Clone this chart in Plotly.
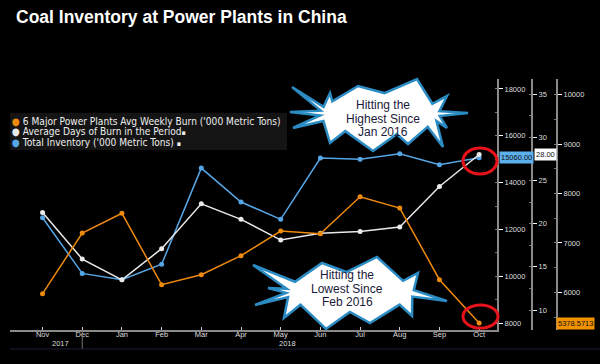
import math
import plotly.graph_objects as go

# ---------------- data ----------------
months = ["Nov", "Dec", "Jan", "Feb", "Mar", "Apr", "May", "Jun", "Jul", "Aug", "Sep", "Oct"]
weekly_burn = [5972, 7200, 7600, 6154, 6356, 6741, 7241, 7186, 7935, 7706, 6255, 5378.5713]
days_of_burn = [21.3, 15.9, 13.5, 17.1, 22.3, 20.5, 18.1, 18.9, 19.1, 19.6, 24.3, 28.00]
total_inventory = [12500, 10120, 9850, 10510, 14620, 13170, 12430, 15050, 15000, 15235, 14765, 15060]
year_labels = ["2017", "2018"]
inv_ticks = [8000, 10000, 12000, 14000, 16000, 18000]
days_ticks = [10, 15, 20, 25, 30, 35]
burn_ticks = [6000, 7000, 8000, 9000, 10000]

W, H = 600, 364
ORANGE = "#ee8a0e"
WHITE = "#e9e9e9"
BLUE = "#56a6e6"


def px(x):
    return x / W


def py(y):
    return 1 - y / H


xs = list(range(len(months)))

fig = go.Figure()
fig.add_trace(go.Scatter(x=xs, y=weekly_burn, yaxis="y3", mode="lines+markers",
                         line=dict(color=ORANGE, width=1.5), marker=dict(size=5, color=ORANGE),
                         name="6 Major Power Plants Avg Weekly Burn ('000 Metric Tons)"))
fig.add_trace(go.Scatter(x=xs, y=days_of_burn, yaxis="y2", mode="lines+markers",
                         line=dict(color=WHITE, width=1.5), marker=dict(size=5, color=WHITE),
                         name="Average Days of Burn in the Period"))
fig.add_trace(go.Scatter(x=xs, y=total_inventory, yaxis="y", mode="lines+markers",
                         line=dict(color=BLUE, width=1.5), marker=dict(size=5, color=BLUE),
                         name="Total Inventory ('000 Metric Tons)"))

AX = "#8a8a8a"
TICKFONT = dict(family="Liberation Sans, Arial, sans-serif", size=7.5, color="#dddddd")
ydom = [py(330), py(79)]

fig.update_layout(
    width=W, height=H,
    paper_bgcolor="black", plot_bgcolor="black",
    margin=dict(l=0, r=0, t=0, b=0),
    showlegend=False,
    xaxis=dict(domain=[px(10), px(497)], range=[-0.82, 11.45],
               tickvals=xs, ticktext=months, showgrid=False, zeroline=False,
               showline=True, linecolor=AX, linewidth=2,
               ticks="inside", ticklen=3, tickcolor="#cccccc", ticklabelstandoff=-4,
               tickfont=TICKFONT),
    yaxis=dict(domain=ydom, side="right", anchor="x", range=[7701, 18427],
               tickvals=inv_ticks, ticktext=[str(v) for v in inv_ticks],
               showgrid=False, zeroline=False, showline=True, linecolor=AX, linewidth=2,
               ticks="outside", ticklen=4, tickcolor="white", tickfont=TICKFONT,
               minor=dict(dtick=1000, tick0=0, ticks="inside", ticklen=2, tickcolor="#777")),
    yaxis2=dict(overlaying="y", side="right", anchor="free", position=px(532),
                range=[7.69, 36.74], tickvals=days_ticks, ticktext=[str(v) for v in days_ticks],
                showgrid=False, zeroline=False, showline=True, linecolor=AX, linewidth=2,
                ticks="outside", ticklen=4, tickcolor="white", tickfont=TICKFONT,
                minor=dict(dtick=2.5, tick0=0, ticks="inside", ticklen=2, tickcolor="#777")),
    yaxis3=dict(overlaying="y", side="right", anchor="free", position=px(557),
                range=[5237, 10318], tickvals=burn_ticks, ticktext=[str(v) for v in burn_ticks],
                showgrid=False, zeroline=False, showline=True, linecolor=AX, linewidth=2,
                ticks="outside", ticklen=4, tickcolor="white", tickfont=TICKFONT,
                minor=dict(dtick=500, tick0=0, ticks="inside", ticklen=2, tickcolor="#777")),
)

shapes = []
annotations = []

# title
annotations.append(dict(x=px(14), y=py(17), xref="paper", yref="paper", xanchor="left", yanchor="middle",
                        text="<b>Coal Inventory at Power Plants in China</b>", showarrow=False,
                        font=dict(family="Liberation Sans, Arial, sans-serif", size=17.5, color="white")))

# legend box
shapes.append(dict(type="rect", xref="paper", yref="paper", x0=px(10), x1=px(287), y0=py(150), y1=py(113),
                   fillcolor="#141414", line=dict(width=0), layer="below"))
leg_items = [
    (ORANGE, "6 Major Power Plants Avg Weekly Burn ('000 Metric Tons)", ""),
    (WHITE, "Average Days of Burn in the Period", "▪"),
    (BLUE, "Total Inventory ('000 Metric Tons) ", "▪"),
]
for i, (c, t, suf) in enumerate(leg_items):
    annotations.append(dict(x=px(10), y=py(121.5 + 10.3 * i), xref="paper", yref="paper",
                            xanchor="left", yanchor="middle", showarrow=False,
                            text=f"<span style='color:{c}'>●</span> {t}<span style='font-size:7px'>{suf}</span>",
                            font=dict(family="DejaVu Sans Condensed, sans-serif", size=10.1, color="#eeeeee")))

# x-axis extras: year labels, separator, bottom line
annotations.append(dict(x=1, y=py(343), xref="x", yref="paper", xanchor="right", yanchor="middle",
                        text=year_labels[0], showarrow=False, xshift=-11, font=TICKFONT))
annotations.append(dict(x=6, y=py(343), xref="x", yref="paper", xanchor="right", yanchor="middle",
                        text=year_labels[1], showarrow=False, xshift=17, font=TICKFONT))
shapes.append(dict(type="line", xref="x", yref="paper", x0=1, x1=1, y0=py(330), y1=py(349),
                   line=dict(color="#777", width=1)))
shapes.append(dict(type="line", xref="paper", yref="paper", x0=px(10), x1=1, y0=py(349), y1=py(349),
                   line=dict(color="#1c1c3a", width=1)))


# starbursts
def star_path(cx, cy, tips, irx, iry):
    pts = []
    n = len(tips)
    angs = [math.atan2(ty - cy, tx - cx) for tx, ty in tips]
    for i in range(n):
        pts.append(tips[i])
        a0, a1 = angs[i], angs[(i + 1) % n]
        d = (a1 - a0) % (2 * math.pi)
        am = a0 + d / 2
        pts.append((cx + irx * math.cos(am), cy + iry * math.sin(am)))
    s = "M " + " L ".join(f"{px(x):.4f},{py(y):.4f}" for x, y in pts) + " Z"
    return s


star1_tips = [(292, 87), (330, 93), (358, 86), (417, 79), (447, 96), (468, 113), (447, 128),
              (443, 147), (408, 144), (373, 151), (330, 143), (293, 128), (290, 112)]
star2_tips = [(253, 265), (322, 263), (377, 257), (418, 273), (447, 301), (412, 316),
              (370, 323), (326, 329), (284, 318), (255, 305), (268, 288)]
for cx, cy, tips, irx, iry in [(380, 114, star1_tips, 60, 21), (350, 292, star2_tips, 64, 20)]:
    shapes.append(dict(type="path", xref="paper", yref="paper", path=star_path(cx, cy, tips, irx, iry),
                       fillcolor="white", line=dict(color="#2b8cc4", width=2.5)))

STARFONT = dict(family="Liberation Sans, Arial, sans-serif", size=12, color="#1a1a3a")
for (cx, lines, y0) in [(383, ["Hitting the", "Highest Since", "Jan 2016"], 105),
                        (347, ["Hitting the", "Lowest Since", "Feb 2016"], 275)]:
    for k, ln in enumerate(lines):
        annotations.append(dict(x=px(cx), y=py(y0 + 13.7 * k), xref="paper", yref="paper",
                                xanchor="center", yanchor="middle", text=ln, showarrow=False, font=STARFONT))

# red circles around last points
for (cx, cy, rx, ry) in [(480, 161, 17, 13), (480.5, 316.5, 17.5, 11.5)]:
    shapes.append(dict(type="circle", xref="paper", yref="paper", x0=px(cx - rx), x1=px(cx + rx),
                       y0=py(cy + ry), y1=py(cy - ry), line=dict(color="#e8121a", width=3)))

# last value labels
LBLFONT = dict(family="Liberation Sans, Arial, sans-serif", size=7.5, color="#111111")
annotations.append(dict(x=px(499), y=total_inventory[-1], xref="paper", yref="y", xanchor="left",
                        yanchor="middle", text=f"{total_inventory[-1]:.2f}", showarrow=False,
                        bgcolor="#5cb0ec", borderpad=1, font=LBLFONT))
annotations.append(dict(x=px(534), y=days_of_burn[-1], xref="paper", yref="y2", xanchor="left",
                        yanchor="middle", text=f"{days_of_burn[-1]:.2f}", showarrow=False,
                        bgcolor="white", borderpad=1, font=LBLFONT))
annotations.append(dict(x=px(595), y=weekly_burn[-1], xref="paper", yref="y3", xanchor="right",
                        yanchor="middle", text=f"{weekly_burn[-1]:.4f}", showarrow=False,
                        bgcolor="#f39200", borderpad=1, font=LBLFONT))

fig.update_layout(shapes=shapes, annotations=annotations)
fig.write_html("out.html", config={"displayModeBar": False},
               post_script="document.body.style.margin='0';document.body.style.overflow='hidden';")
